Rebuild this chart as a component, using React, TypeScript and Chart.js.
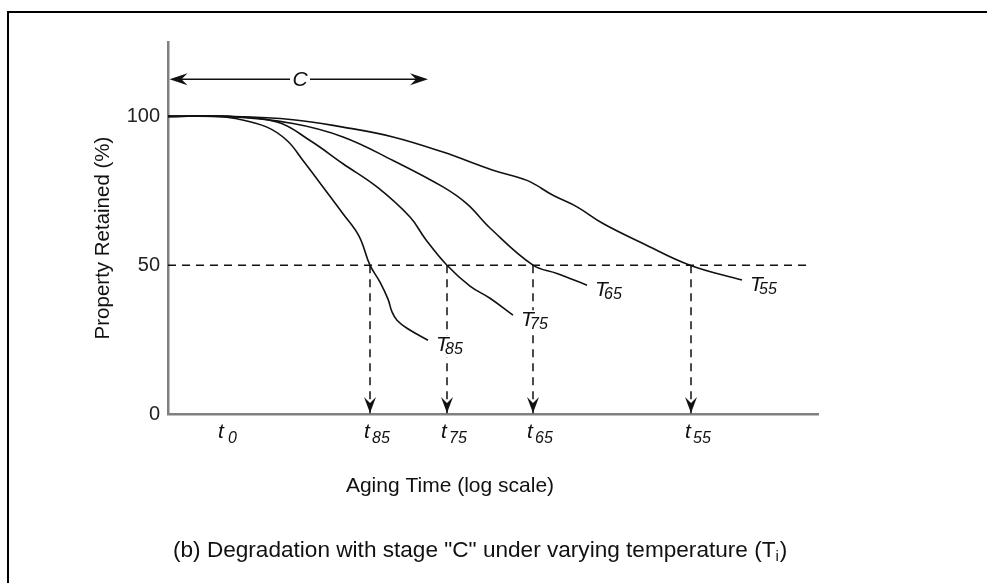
import React, { useEffect, useRef } from 'react';
import { Chart, registerables } from 'chart.js';

Chart.register(...registerables);

const FONT = "'Liberation Sans', Arial, Helvetica, sans-serif";

// x: aging time on an arbitrary log-scale unit, y: property retained (%)
const t85X = [0, 4.7, 6.9, 9.9, 11.9, 13.5, 15.5, 17.5, 19.1, 20.2, 21.2, 22.0, 22.4, 22.9, 23.9, 26.0];
const t85Y = [100, 100, 99.2, 96.4, 91.9, 85.2, 76.3, 67.3, 59.8, 50, 44.3, 38.6, 34.3, 31.5, 28.8, 24.8];

const t75X = [0, 5.5, 10.9, 14.2, 17.5, 20.9, 24.2, 25.7, 27.9, 30.2, 32.2, 34.5];
const t75Y = [100, 100, 98.1, 91.9, 84.1, 76.3, 66.2, 59.0, 50, 43.0, 38.9, 33.2];

const t65X = [0, 6, 12.5, 17.5, 22.5, 27.5, 29.9, 32.2, 36.5, 38.9, 41.9];
const t65Y = [100, 100, 97.6, 93.1, 85.2, 76.3, 70.6, 62.5, 50, 47.2, 43.3];

const t55X = [0, 6, 12.5, 17.5, 22.5, 27.5, 32.5, 35.9, 38.5, 40.9, 43.5, 47.5, 52.2, 57.4];
const t55Y = [100, 100, 98.9, 96.4, 93.1, 88.0, 81.9, 78.5, 73.5, 69.6, 64.0, 57.3, 50, 45.0];

const curveXs = [t85X, t75X, t65X, t55X];
const curveYs = [t85Y, t75Y, t65Y, t55Y];
const curveLabels = ['85', '75', '65', '55'];

const xTickSubs = ['0', '85', '75', '65', '55'];
const xTickPositions = [5.6, 20.2, 27.9, 36.5, 52.3];
const yTickValues = [0, 50, 100];
const halfLevel = 50;
const halfLineEnd = 64.4;
const xMax = 65;
const yMax = 125;

const cArrowStart = 0.15;
const cArrowEnd = 26;
const cArrowY = 112.5;
const cLabelX = 13.2;

const xTitle = 'Aging Time (log scale)';
const yTitle = 'Property Retained (%)';
const captionMain = '(b) Degradation with stage "C" under varying temperature (T';
const captionSub = 'i';
const captionEnd = ')';

function arrowHead(ctx: CanvasRenderingContext2D, tx: number, ty: number, ux: number, uy: number, len: number, half: number, notch: number) {
  const px = -uy, py = ux;
  const bx = tx - ux * len, by = ty - uy * len;
  ctx.beginPath();
  ctx.moveTo(tx, ty);
  ctx.lineTo(bx + px * half, by + py * half);
  ctx.lineTo(tx - ux * (len - notch), ty - uy * (len - notch));
  ctx.lineTo(bx - px * half, by - py * half);
  ctx.closePath();
  ctx.fill();
}

const annotations = {
  id: 'annotations',
  beforeDraw(chart: any) {
    const { ctx, width, height } = chart;
    ctx.save();
    ctx.fillStyle = '#ffffff';
    ctx.fillRect(0, 0, width, height);
    ctx.fillStyle = '#000000';
    ctx.fillRect(7, 11, width - 7, 2);
    ctx.fillRect(7, 11, 2, height - 11);
    ctx.restore();
  },
  afterDatasetsDraw(chart: any) {
    const { ctx, scales } = chart;
    const xs = scales.x, ys = scales.y;
    ctx.save();
    ctx.fillStyle = '#111';
    ctx.strokeStyle = '#111';

    // arrowheads of the dashed drop lines
    const tipY = ys.getPixelForValue(0);
    for (let i = 1; i < xTickPositions.length; i++) {
      const px = xs.getPixelForValue(xTickPositions[i]);
      arrowHead(ctx, px, tipY - 1, 0, 1, 16, 6, 6);
    }

    // "C" span arrow
    const cy = ys.getPixelForValue(cArrowY);
    const x1 = xs.getPixelForValue(cArrowStart);
    const x2 = xs.getPixelForValue(cArrowEnd);
    const cx = xs.getPixelForValue(cLabelX);
    ctx.lineWidth = 1.6;
    ctx.beginPath();
    ctx.moveTo(x1 + 8, cy);
    ctx.lineTo(cx - 10, cy);
    ctx.moveTo(cx + 10, cy);
    ctx.lineTo(x2 - 8, cy);
    ctx.stroke();
    arrowHead(ctx, x1, cy, -1, 0, 18, 6, 6);
    arrowHead(ctx, x2, cy, 1, 0, 18, 6, 6);
    ctx.font = `italic 21px ${FONT}`;
    ctx.textAlign = 'center';
    ctx.textBaseline = 'middle';
    ctx.fillText('C', cx, cy + 1);

    // curve labels T_i
    ctx.textAlign = 'left';
    ctx.textBaseline = 'alphabetic';
    for (let i = 0; i < curveXs.length; i++) {
      const xsArr = curveXs[i], ysArr = curveYs[i];
      const lx = xs.getPixelForValue(xsArr[xsArr.length - 1]);
      const ly = ys.getPixelForValue(ysArr[ysArr.length - 1]);
      const left = lx + 8, base = ly + 11;
      ctx.fillStyle = '#ffffff';
      ctx.fillRect(left - 1, base - 16, 30, 22);
      ctx.fillStyle = '#111';
      ctx.font = `italic 21px ${FONT}`;
      ctx.fillText('T', left, base);
      ctx.font = `italic 16px ${FONT}`;
      ctx.fillText(curveLabels[i], left + 9, base + 3);
    }

    // x tick labels t_i
    const tBase = ys.getPixelForValue(0) + 24;
    for (let i = 0; i < xTickPositions.length; i++) {
      const px = xs.getPixelForValue(xTickPositions[i]);
      ctx.font = `italic 21px ${FONT}`;
      ctx.fillText('t', px - 6, tBase);
      ctx.font = `italic 16px ${FONT}`;
      ctx.fillText(xTickSubs[i], px + (i === 0 ? 4 : 2), tBase + 5);
    }

    // axis titles
    ctx.font = `21px ${FONT}`;
    ctx.textAlign = 'center';
    ctx.fillText(xTitle, 450, 492);
    ctx.save();
    ctx.translate(103, (chart.chartArea.top + chart.chartArea.bottom) / 2 + 10);
    ctx.rotate(-Math.PI / 2);
    ctx.textBaseline = 'middle';
    ctx.font = `20.5px ${FONT}`;
    ctx.fillText(yTitle, 0, 0);
    ctx.restore();

    // caption
    ctx.textAlign = 'left';
    ctx.font = `22.6px ${FONT}`;
    const capX = 173, capBase = 557;
    ctx.fillText(captionMain, capX, capBase);
    const w1 = ctx.measureText(captionMain).width;
    ctx.font = `15px ${FONT}`;
    ctx.fillText(captionSub, capX + w1, capBase + 4);
    const w2 = ctx.measureText(captionSub).width;
    ctx.font = `22.6px ${FONT}`;
    ctx.fillText(captionEnd, capX + w1 + w2 + 1, capBase);

    ctx.restore();
  },
};

export default function App() {
  const ref = useRef<HTMLCanvasElement | null>(null);

  useEffect(() => {
    if (!ref.current) return;
    const curveSets = curveXs.map((xa, i) => ({
      label: 'T' + curveLabels[i],
      data: xa.map((xv, j) => ({ x: xv, y: curveYs[i][j] })),
      borderColor: '#111',
      borderWidth: 1.6,
      pointRadius: 0,
      fill: false,
      tension: 0.4,
      clip: false as any,
    }));
    const halfLine = {
      label: 'half',
      data: [{ x: 0, y: halfLevel }, { x: halfLineEnd, y: halfLevel }],
      borderColor: '#111',
      borderWidth: 1.5,
      borderDash: [8, 6],
      pointRadius: 0,
      tension: 0,
      fill: false,
    };
    const dropLines = xTickPositions.slice(1).map((tx, i) => ({
      label: 'drop' + i,
      data: [{ x: tx, y: halfLevel }, { x: tx, y: 0 }],
      borderColor: '#111',
      borderWidth: 1.5,
      borderDash: [8, 6],
      pointRadius: 0,
      tension: 0,
      fill: false,
    }));

    const chart = new Chart(ref.current, {
      type: 'line',
      data: { datasets: [halfLine, ...dropLines, ...curveSets] as any },
      options: {
        animation: false,
        responsive: false,
        devicePixelRatio: 1,
        layout: { padding: { left: 8, top: 42, right: 169, bottom: 0 } },
        plugins: { legend: { display: false }, tooltip: { enabled: false } },
        scales: {
          x: {
            type: 'linear',
            min: 0,
            max: xMax,
            grid: { display: false, drawTicks: false },
            border: { display: true, color: '#808080', width: 2.5 },
            ticks: { display: false },
            afterFit: (s: any) => { s.height = 169; },
          },
          y: {
            type: 'linear',
            min: 0,
            max: yMax,
            grid: { display: false, drawTicks: false },
            border: { display: true, color: '#808080', width: 2.5 },
            ticks: { color: '#222', font: { family: FONT, size: 20 }, padding: 8 },
            afterBuildTicks: (s: any) => { s.ticks = yTickValues.map((v) => ({ value: v })); },
            afterFit: (s: any) => { s.width = 160; },
          },
        },
      },
      plugins: [annotations],
    });
    return () => chart.destroy();
  }, []);

  return (
    <div style={{ position: 'fixed', left: 0, top: 0, width: 987, height: 583, background: '#fff' }}>
      <canvas ref={ref} width={987} height={583} style={{ display: 'block', width: 987, height: 583 }} />
    </div>
  );
}
